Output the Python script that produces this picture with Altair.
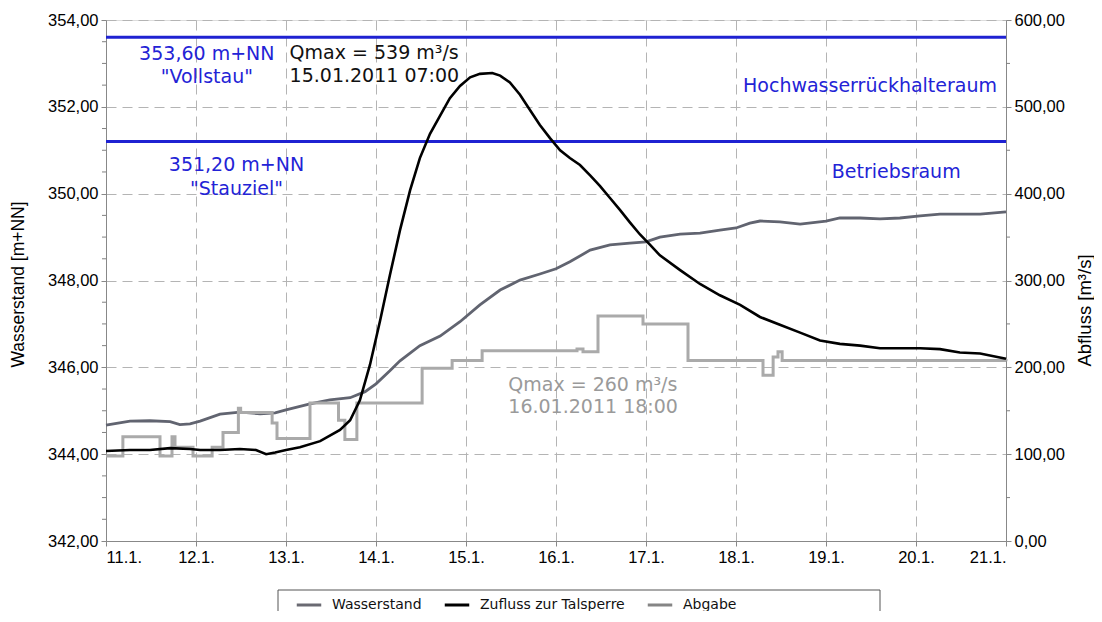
import altair as alt
import pandas as pd

FONT = "DejaVu Sans"

# ---------------- data (hours since 11.01.2011 00:00) ----------------
ws_h = [0, 6.4, 11.7, 17.1, 19.7, 22.4, 25.1, 30.4, 35.7, 41.1, 45.1, 48, 54.4, 59.7,
        65.1, 69.1, 72, 75.7, 78.4, 83.7, 89.1, 94.4, 99.7, 105.1, 110.4, 115.7, 120,
        123.7, 129.1, 134.4, 139.7, 144, 147.7, 153.1, 158.4, 163.7, 168, 171.7, 174.4,
        179.7, 185.1, 192, 195.7, 201.1, 206.4, 211.7, 217.1, 222.4, 227.7, 233.1, 240]
ws_v = [344.67, 344.76, 344.77, 344.75, 344.68, 344.70, 344.76, 344.92, 344.97, 344.93,
        344.95, 345.02, 345.16, 345.25, 345.30, 345.44, 345.62, 345.92, 346.15, 346.50,
        346.72, 347.05, 347.44, 347.78, 348.01, 348.15, 348.27, 348.43, 348.70, 348.82,
        348.86, 348.89, 349.00, 349.07, 349.09, 349.16, 349.21, 349.32, 349.37, 349.35,
        349.30, 349.37, 349.44, 349.44, 349.42, 349.44, 349.49, 349.53, 349.53, 349.53,
        349.58]

zu_h = [0, 6.4, 11.7, 17.1, 22.4, 25.1, 30.4, 35.7, 40, 42.7, 45.1, 48, 51.7, 57.1,
        62.4, 65.1, 67.7, 70.4, 73.1, 75.7, 78.4, 81.1, 83.7, 86.4, 89.1, 91.7, 94.4,
        97.1, 99.7, 103, 105.1, 107.7, 110.4, 113.1, 115.7, 118.4, 121.1, 123.7, 126.4,
        129.1, 131.7, 134.4, 137.1, 139.7, 142.4, 145.1, 147.7, 153.1, 158.4, 163.7,
        169.1, 174.4, 179.7, 185.1, 190.4, 195.7, 201.1, 206.4, 211.7, 217.1, 222.4,
        227.7, 233.1, 240]
zu_v = [103.6, 104.8, 104.8, 107, 106, 104.8, 104.8, 106, 104.8, 100, 102, 104.8, 108,
        115, 128, 139, 162, 203, 254, 306, 358, 404, 441, 469, 490, 510, 524, 534, 538,
        539, 536, 528, 514, 496, 479, 464, 450, 441, 433, 421, 409, 395, 381, 367, 353,
        341, 329, 312, 296, 283, 272, 258, 249, 240, 231, 227, 225, 222, 222, 222, 221,
        217, 216, 210]

ab_h = [0, 4.5, 14.4, 17.6, 18.4, 23.2, 28.3, 31.2, 35.3, 35.9, 43.7, 44.3, 45.6, 54.4,
        62.0, 63.7, 66.9, 84.3, 92.3, 100.3, 125.6, 127.2, 131.2, 143.2, 155.2, 175.2,
        177.9, 179.2, 180.3, 240]
ab_v = [98, 120, 98, 120, 108, 98, 108, 125, 153, 148, 148, 136, 118, 159, 139, 117,
        159, 199, 208, 219, 221, 218, 259, 250, 208, 191, 212, 218, 208, 207]

series_names = ["Wasserstand", "Zufluss zur Talsperre", "Abgabe"]
legend_colors = ["#6a6a72", "#000000", "#858585"]
ws_color = "#616470"
zu_color = "#000000"
ab_color = "#aaaaaa"

level_values = [353.60, 351.20]

blue_text = ["353,60 m+NN", '"Vollstau"', "351,20 m+NN", '"Stauziel"', "Betriebsraum"]
blue_day = [12.12, 12.12, 12.45, 12.45, 19.78]
blue_m = [353.08, 352.55, 350.53, 349.97, 350.36]
hw_text = ["Hochwasserrückhalteraum"]
hw_day = [20.9]
hw_m = [352.34]
qmax_text = ["Qmax = 539 m³/s", "15.01.2011 07:00"]
qmax_day = [13.04, 13.04]
qmax_m = [353.10, 352.57]
qab_text = ["Qmax = 260 m³/s", "16.01.2011 18:00"]
qab_day = [15.47, 15.47]
qab_m = [345.46, 344.95]

x_ticks = list(range(11, 22))
left_ticks = [342, 344, 346, 348, 350, 352, 354]
right_ticks = [0, 100, 200, 300, 400, 500, 600]
left_minor = [v / 2 for v in range(684, 709) if (v / 2) % 2 != 0]
right_minor = [50, 150, 250, 350, 450, 550]

# ---------------- frames ----------------
def day(h):
    return [11 + t / 24 for t in h]

ws_df = pd.DataFrame({"day": day(ws_h), "v": ws_v, "series": "Wasserstand"})
zu_df = pd.DataFrame({"day": day(zu_h), "v": zu_v, "series": "Zufluss zur Talsperre"})
ab_df = pd.DataFrame({"day": day(ab_h), "v": ab_v, "series": "Abgabe"})

fmt = "replace(format(datum.value, '.2f'), '.', ',')"

xenc = alt.X("day:Q", scale=alt.Scale(domain=[11, 21], nice=False, zero=False),
             axis=alt.Axis(values=x_ticks, labelExpr="datum.value + '.1.'", title=None,
                           grid=True, gridDash=[10, 6], gridColor="#b4b4b4",
                           labelFontSize=16.5, labelPadding=3, tickSize=5))
left_axis = alt.Axis(values=left_ticks, labelExpr=fmt, title="Wasserstand [m+NN]",
                     grid=True, gridDash=[10, 6], gridColor="#b4b4b4",
                     labelFontSize=16.5, titleFontSize=17.5, titleFontWeight="normal",
                     titleAngle=270, titleX=-88, titleY=264, titleAlign="center",
                     titleBaseline="middle", tickSize=5, labelPadding=3)
right_axis = alt.Axis(values=right_ticks, labelExpr=fmt, title="Abfluss [m³/s]",
                      orient="right", grid=False, titleAngle=270,
                      titleX=78, titleY=290, titleAlign="center", titleBaseline="middle",
                      labelFontSize=16.5, titleFontSize=18.5, titleFontWeight="normal",
                      tickSize=5, labelPadding=3)
lscale = alt.Scale(domain=[342, 354], nice=False, zero=False)
rscale = alt.Scale(domain=[0, 600], nice=False, zero=False)

def ly(field="v"):
    return alt.Y(f"{field}:Q", scale=lscale, axis=left_axis)

def ry(field="v"):
    return alt.Y(f"{field}:Q", scale=rscale, axis=right_axis)

color = alt.Color("series:N",
                  scale=alt.Scale(domain=series_names, range=legend_colors),
                  legend=alt.Legend(orient="none", legendX=189, legendY=571,
                                    direction="horizontal", title=None,
                                    symbolType="stroke", symbolStrokeWidth=3,
                                    symbolSize=600, symbolOpacity=1,
                                    labelFontSize=14, labelOffset=9,
                                    columnPadding=16, padding=0, labelFont=FONT,
                                    labelColor="#111"))

# --- left-scale layers ---
levels = alt.Chart(pd.DataFrame({"v": level_values})).mark_rule(
    color="#1f22d2", strokeWidth=3).encode(y=ly(), x=alt.value(0), x2=alt.value(900))

def texts(t, d, m, col, align):
    df = pd.DataFrame({"t": t, "day": d, "v": m})
    return alt.Chart(df).mark_text(color=col, fontSize=19, font=FONT, align=align,
                                   baseline="alphabetic").encode(
        x="day:Q", y=ly(), text="t:N")

# invisible layer that only feeds the legend
all_df = pd.concat([ws_df, zu_df, ab_df])
legend_feed = alt.Chart(all_df).mark_line(opacity=0).encode(
    x=xenc, y=ly(), color=color, detail="series:N")

ws_line = alt.Chart(ws_df).mark_line(strokeWidth=2.8, color=ws_color).encode(
    x=xenc, y=ly())

lminor = alt.Chart(pd.DataFrame({"v": left_minor})).mark_rule(
    color="#808080", strokeWidth=1).encode(y=ly(), x=alt.value(-4), x2=alt.value(0))

left = alt.layer(
    legend_feed,
    levels,
    ws_line,
    lminor,
    texts(blue_text, blue_day, blue_m, "#2323d6", "center"),
    texts(hw_text, hw_day, hw_m, "#2323d6", "right"),
    texts(qmax_text, qmax_day, qmax_m, "#111111", "left"),
    texts(qab_text, qab_day, qab_m, "#9a9a9a", "left"),
)

# --- right-scale layers ---
ab_line = alt.Chart(ab_df).mark_line(strokeWidth=3, interpolate="step-after",
                                     color=ab_color).encode(x=xenc, y=ry())
zu_line = alt.Chart(zu_df).mark_line(strokeWidth=2.6, color=zu_color).encode(
    x=xenc, y=ry())
rminor = alt.Chart(pd.DataFrame({"v": right_minor})).mark_rule(
    color="#808080", strokeWidth=1).encode(y=ry(), x=alt.value(900), x2=alt.value(904))

right = alt.layer(ab_line, zu_line, rminor)

legend_box = alt.Chart(alt.Data(values=[{"a": 1}])).mark_rect(
    fillOpacity=0, stroke="#555555", strokeWidth=1).encode(
    x=alt.value(172), x2=alt.value(774), y=alt.value(570), y2=alt.value(660))

chart = alt.layer(left, right, legend_box).resolve_scale(y="independent").properties(
    width=900, height=521,
    padding={"left": 98, "top": 12, "right": 88, "bottom": 70},
    autosize=alt.AutoSizeParams(type="none"),
).configure_view(stroke="#808080").configure_axis(
    labelFont=FONT, titleFont=FONT, labelColor="#222222", titleColor="#111111",
    domainColor="#808080", tickColor="#808080",
    titleFontWeight="normal",
).configure(background="white")

chart.save("out.html", embed_options={"renderer": "svg", "actions": False})
